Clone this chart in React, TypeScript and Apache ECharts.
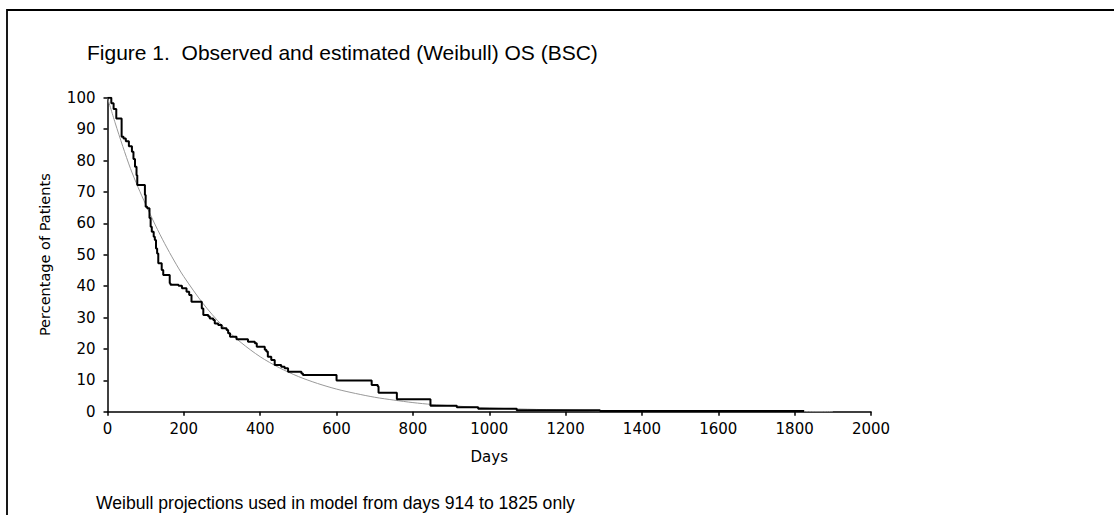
import React, { useEffect, useRef } from "react";
import * as echarts from "echarts";

// Kaplan-Meier observed overall survival (BSC arm): step points [day, % alive]
const kmDays = [
  0, 10, 16, 23, 37, 42, 48, 56, 64, 68, 72, 76, 78, 98, 100, 104, 110, 113, 116, 121,
  124, 127, 130, 133, 142, 146, 163, 165, 186, 195, 207, 214, 220, 247, 251, 264, 268,
  277, 281, 290, 299, 312, 316, 321, 338, 368, 386, 391, 412, 416, 420, 429, 438, 455,
  464, 473, 508, 512, 600, 692, 708, 710, 758, 846, 915, 971, 1072, 1290, 1825,
];
const kmPct = [
  100, 98.2, 96.4, 93.4, 87.6, 87, 86.1, 84.5, 82.8, 80.5, 78, 75.3, 72.2, 69, 65.3, 64.8,
  61.7, 58.9, 57.3, 55.7, 54.7, 52, 50.4, 47.3, 45.1, 43.5, 40.9, 40.4, 40.1, 39.3, 38.2,
  37.2, 35, 32.9, 30.8, 30.3, 29.7, 29.2, 28.1, 27.6, 26.6, 26, 25, 23.9, 23.1, 22.3, 21.8,
  20.7, 19.7, 19.2, 17.5, 16.5, 14.9, 14.3, 13.8, 12.7, 12.2, 11.7, 9.9, 8.5, 8.0, 6.0,
  4.0, 1.9, 1.4, 0.9, 0.5, 0.2, 0.2,
];

// Estimated (Weibull) survival curve
const wbDays = [
  0, 20, 40, 60, 80, 100, 125, 150, 175, 200, 250, 300, 350, 400, 450, 500, 550, 600,
  650, 700, 750, 800, 850, 900, 1000, 1100, 1200, 1300, 1400, 1500, 1600, 1700, 1800, 1900,
];
const wbPct = [
  100, 92, 84.5, 77.5, 71.5, 66, 59.5, 53.5, 48, 43, 34.5, 27.5, 22, 17.5, 14, 11.2, 9,
  7.2, 5.8, 4.6, 3.7, 2.9, 2.3, 1.9, 1.2, 0.8, 0.5, 0.3, 0.2, 0.12, 0.08, 0.05, 0.03, 0.02,
];

const titleText = "Figure 1.  Observed and estimated (Weibull) OS (BSC)";
const noteText = "Weibull projections used in model from days 914 to 1825 only";
const xName = "Days";
const yName = "Percentage of Patients";

export default function App() {
  const ref = useRef<HTMLDivElement>(null);

  useEffect(() => {
    if (!ref.current) return;
    const chart = echarts.init(ref.current, undefined, { renderer: "svg" });
    const axisFont = "DejaVu Sans";
    chart.setOption({
      animation: false,
      backgroundColor: "#ffffff",
      title: {
        text: titleText,
        left: 82,
        top: 37,
        textStyle: {
          fontFamily: "Liberation Sans",
          fontSize: 21,
          fontWeight: "normal",
          color: "#000",
        },
      },
      grid: { left: 107.5, right: 243, top: 97.7, bottom: 103.3 },
      xAxis: {
        type: "value",
        min: 0,
        max: 2000,
        interval: 200,
        name: xName,
        nameLocation: "middle",
        nameGap: 38,
        nameTextStyle: { fontFamily: axisFont, fontSize: 15, color: "#000" },
        axisLine: { lineStyle: { color: "#000", width: 1.5 } },
        axisTick: { length: 4, lineStyle: { color: "#000", width: 1.5 } },
        axisLabel: {
          margin: 10,
          fontFamily: axisFont,
          fontSize: 15,
          color: "#000",
          formatter: (v: number) => String(v),
        },
        splitLine: { show: false },
      },
      yAxis: {
        type: "value",
        min: 0,
        max: 100,
        interval: 10,
        name: yName,
        nameLocation: "middle",
        nameGap: 55,
        nameTextStyle: { fontFamily: axisFont, fontSize: 14.5, color: "#000" },
        axisLine: { show: true, lineStyle: { color: "#000", width: 1.5 } },
        axisTick: { show: true, length: 4, lineStyle: { color: "#000", width: 1.5 } },
        axisLabel: { margin: 12, fontFamily: axisFont, fontSize: 15, color: "#000" },
        splitLine: { show: false },
      },
      series: [
        {
          name: "Weibull",
          type: "line",
          data: wbDays.map((d, i) => [d, wbPct[i]]),
          smooth: 0.3,
          showSymbol: false,
          lineStyle: { color: "#999999", width: 1 },
          z: 2,
        },
        {
          name: "Observed",
          type: "line",
          step: "end",
          data: kmDays.map((d, i) => [d, kmPct[i]]),
          showSymbol: false,
          lineStyle: { color: "#000", width: 2 },
          z: 3,
        },
      ],
      graphic: [
        {
          type: "rect",
          shape: { x: 7, y: 10, width: 1200, height: 600 },
          style: { fill: "none", stroke: "#000", lineWidth: 1.8 },
          silent: true,
        },
        {
          type: "text",
          left: 96,
          top: 494,
          style: {
            text: noteText,
            fontFamily: "Liberation Sans",
            fontSize: 17.6,
            fill: "#000",
          },
        },
      ],
    });
    return () => chart.dispose();
  }, []);

  return (
    <div
      ref={ref}
      style={{ position: "fixed", left: 0, top: 0, width: 1114, height: 515 }}
    />
  );
}
